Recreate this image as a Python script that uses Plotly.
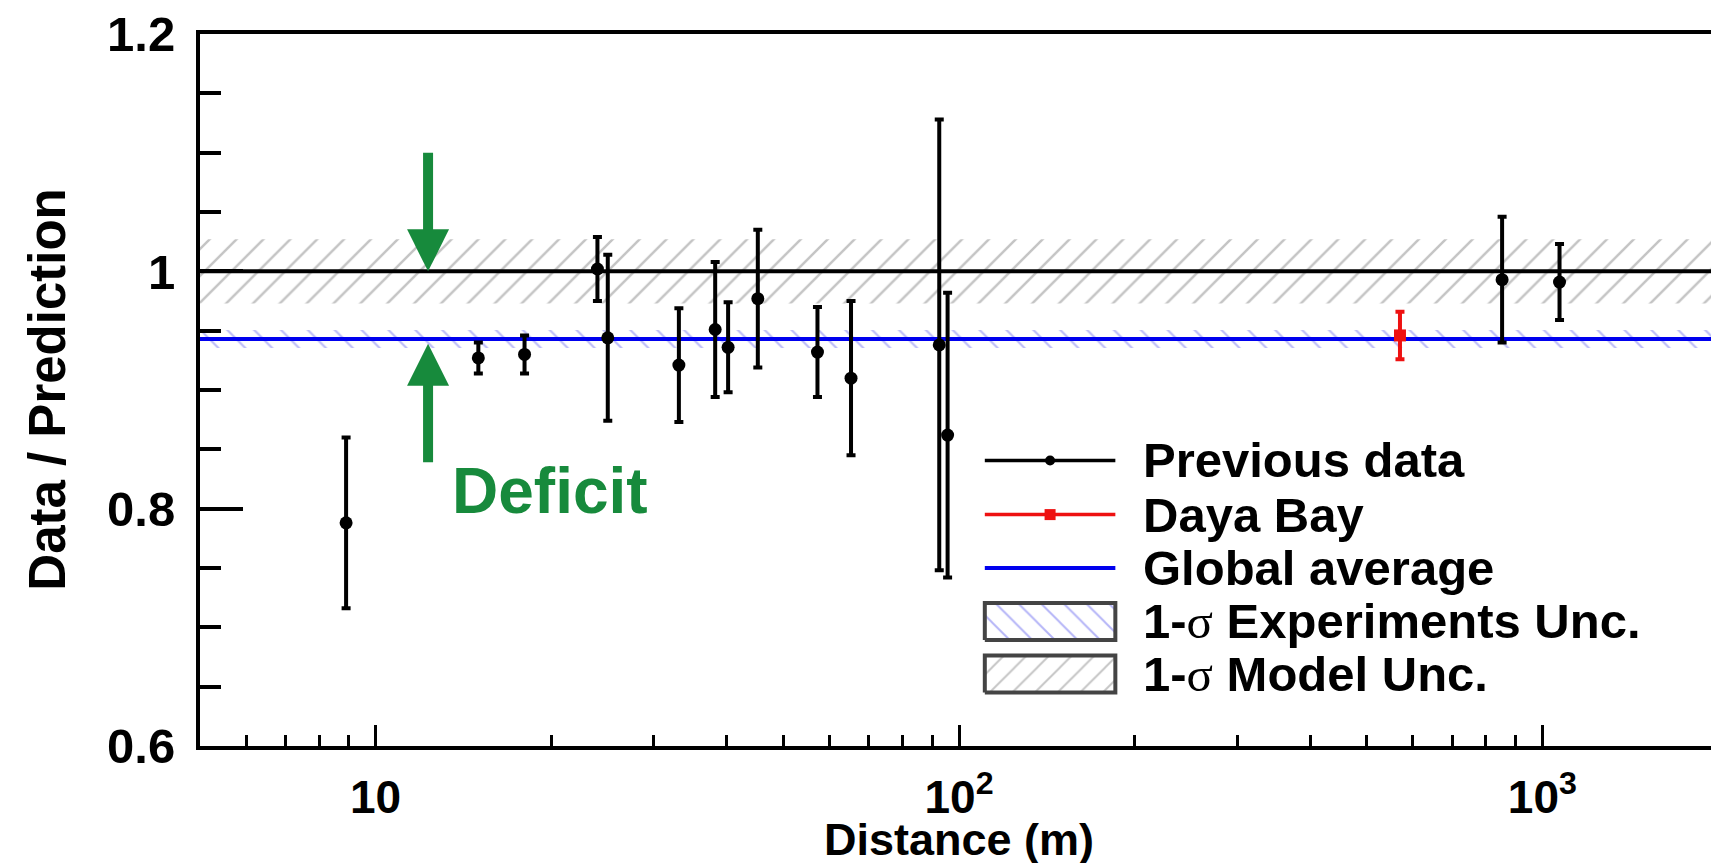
import math
import plotly.graph_objects as go

# ---------------- data ----------------
distances = [8.9, 15.0, 18.0, 24.0, 25.0, 33.1, 38.2, 40.2, 45.2, 57.2, 65.3, 92.5, 95.6, 853, 1070]
ratios = [0.788, 0.927, 0.930, 1.002, 0.944, 0.921, 0.951, 0.936, 0.977, 0.932, 0.910, 0.938, 0.862, 0.993, 0.991]
errors = [0.072, 0.013, 0.016, 0.027, 0.070, 0.048, 0.057, 0.038, 0.058, 0.038, 0.065, 0.190, 0.120, 0.053, 0.032]

dyb_distance = [570]
dyb_ratio = [0.946]
dyb_error = [0.020]

global_average = 0.943
global_unc = 0.0075
model_center = 1.0
model_unc = 0.027

x_range = [5, 2000]
y_range = [0.6, 1.2]
y_tickvals = [0.6, 0.8, 1.0, 1.2]
y_ticktext = ["0.6", "0.8", "1", "1.2"]
x_tickvals = [10, 100, 1000]
x_ticktext = ["10", "10<sup>2</sup>", "10<sup>3</sup>"]

arrow_distance = 12.3
deficit_distance = 13.4
deficit_level = 0.815

legend_labels = [
    "Previous data",
    "Daya Bay",
    "Global average",
    "1-<span style='font-family:Liberation Serif;font-weight:normal'>σ</span> Experiments Unc.",
    "1-<span style='font-family:Liberation Serif;font-weight:normal'>σ</span> Model Unc.",
]

FONT = "Liberation Sans, Arial, Helvetica, sans-serif"
GREEN = "#178a3c"

fig = go.Figure()

# model uncertainty band
fig.add_trace(go.Scatter(
    x=[x_range[0], x_range[1], x_range[1], x_range[0]],
    y=[model_center - model_unc, model_center - model_unc, model_center + model_unc, model_center + model_unc],
    fill="toself", mode="none", fillcolor="rgba(0,0,0,0)",
    fillpattern=dict(shape="/", fgcolor="#8a8a8a", bgcolor="rgba(255,255,255,0)", size=19, solidity=0.13),
    hoverinfo="skip", showlegend=False))
# experiments uncertainty band
fig.add_trace(go.Scatter(
    x=[x_range[0], x_range[1], x_range[1], x_range[0]],
    y=[global_average - global_unc, global_average - global_unc, global_average + global_unc, global_average + global_unc],
    fill="toself", mode="none", fillcolor="rgba(0,0,0,0)",
    fillpattern=dict(shape="\\", fgcolor="#7a7af0", bgcolor="rgba(255,255,255,0)", size=19, solidity=0.12),
    hoverinfo="skip", showlegend=False))
# reference line at 1
fig.add_trace(go.Scatter(x=x_range, y=[model_center, model_center], mode="lines",
                         line=dict(color="black", width=4), showlegend=False))
# global average line
fig.add_trace(go.Scatter(x=x_range, y=[global_average, global_average], mode="lines",
                         line=dict(color="#0000ee", width=4), showlegend=False))
# previous data
fig.add_trace(go.Scatter(
    x=distances, y=ratios, mode="markers",
    marker=dict(symbol="circle", size=13, color="black"),
    error_y=dict(type="data", array=errors, visible=True, color="black", thickness=4, width=4.5),
    showlegend=False))
# Daya Bay
fig.add_trace(go.Scatter(
    x=dyb_distance, y=dyb_ratio, mode="markers",
    marker=dict(symbol="square", size=12, color="#ee1111"),
    error_y=dict(type="data", array=dyb_error, visible=True, color="#ee1111", thickness=4, width=4.5),
    showlegend=False))

# ---------------- legend (overlay axes in plot-fraction units) ----------------
leg_rows = [0.401, 0.325, 0.250, 0.175, 0.101]
lx0, lx1, ltx = 0.517, 0.603, 0.620
lxm = (lx0 + lx1) / 2
box_h = 0.026

fig.add_trace(go.Scatter(x=[lx0, lx1], y=[leg_rows[0]] * 2, mode="lines", xaxis="x2", yaxis="y2",
                         line=dict(color="black", width=3.5), showlegend=False, hoverinfo="skip"))
fig.add_trace(go.Scatter(x=[lxm], y=[leg_rows[0]], mode="markers", xaxis="x2", yaxis="y2",
                         marker=dict(symbol="circle", size=10, color="black"), showlegend=False, hoverinfo="skip"))
fig.add_trace(go.Scatter(x=[lx0, lx1], y=[leg_rows[1]] * 2, mode="lines", xaxis="x2", yaxis="y2",
                         line=dict(color="#ee1111", width=3.5), showlegend=False, hoverinfo="skip"))
fig.add_trace(go.Scatter(x=[lxm], y=[leg_rows[1]], mode="markers", xaxis="x2", yaxis="y2",
                         marker=dict(symbol="square", size=11, color="#ee1111"), showlegend=False, hoverinfo="skip"))
fig.add_trace(go.Scatter(x=[lx0, lx1], y=[leg_rows[2]] * 2, mode="lines", xaxis="x2", yaxis="y2",
                         line=dict(color="#0000ee", width=4), showlegend=False, hoverinfo="skip"))
for row, shape, col in [(leg_rows[3], "\\", "#6a6af0"), (leg_rows[4], "/", "#8a8a8a")]:
    fig.add_trace(go.Scatter(
        x=[lx0, lx1, lx1, lx0, lx0], y=[row - box_h, row - box_h, row + box_h, row + box_h, row - box_h],
        xaxis="x2", yaxis="y2", fill="toself", mode="lines", fillcolor="rgba(0,0,0,0)",
        line=dict(color="#444444", width=4),
        fillpattern=dict(shape=shape, fgcolor=col, bgcolor="white", size=16, solidity=0.12),
        showlegend=False, hoverinfo="skip"))

annotations = []
for row, lab in zip(leg_rows, legend_labels):
    annotations.append(dict(x=ltx, y=row, xref="x2", yref="y2", text="<b>" + lab + "</b>", showarrow=False,
                            xanchor="left", yanchor="middle", font=dict(family=FONT, size=49, color="black")))

# deficit arrows & label
lx = math.log10(arrow_distance)
annotations.append(dict(x=lx, y=model_center, xref="x", yref="y", ax=0, ay=-120, showarrow=True,
                        arrowhead=2, arrowsize=0.84, arrowwidth=10, arrowcolor=GREEN, text=""))
annotations.append(dict(x=lx, y=global_average - 0.004, xref="x", yref="y", ax=0, ay=120, showarrow=True,
                        arrowhead=2, arrowsize=0.84, arrowwidth=10, arrowcolor=GREEN, text=""))
annotations.append(dict(x=math.log10(deficit_distance), y=deficit_level, xref="x", yref="y", text="<b>Deficit</b>",
                        showarrow=False, xanchor="left", yanchor="middle", font=dict(family=FONT, size=64, color=GREEN)))
# axis titles
annotations.append(dict(x=-0.101, y=0.5, xref="paper", yref="paper", text="<b>Data / Prediction</b>",
                        textangle=-90, showarrow=False, xanchor="center", yanchor="middle",
                        font=dict(family=FONT, size=51, color="black")))
annotations.append(dict(x=0.5, y=-0.169, xref="paper", yref="paper", text="<b>Distance (m)</b>",
                        showarrow=False, xanchor="center", yanchor="bottom", borderpad=0,
                        font=dict(family=FONT, size=45, color="black")))

fig.update_layout(
    width=1719, height=863,
    margin=dict(l=192, r=9, t=26, b=125, autoexpand=False),
    paper_bgcolor="white", plot_bgcolor="white",
    showlegend=False,
    annotations=annotations,
    xaxis=dict(type="log", range=[math.log10(x_range[0]), math.log10(x_range[1])],
               tickvals=x_tickvals, ticktext=x_ticktext, automargin=False,
               ticks="inside", ticklen=21, tickwidth=3, tickcolor="black",
               minor=dict(ticks="inside", ticklen=11, tickwidth=3, tickcolor="black", dtick="D1"),
               showline=True, linewidth=4, linecolor="black", mirror=True,
               showgrid=False, zeroline=False,
               tickfont=dict(family=FONT, size=46, color="black", weight="bold"),
               ticklabelstandoff=8),
    yaxis=dict(range=[y_range[0] - 1e-4, y_range[1] + 1e-4], tickvals=y_tickvals, ticktext=y_ticktext,
               automargin=False,
               ticks="inside", ticklen=43, tickwidth=4, tickcolor="black",
               minor=dict(ticks="inside", ticklen=21, tickwidth=4, tickcolor="black", dtick=0.05),
               showline=True, linewidth=4, linecolor="black", mirror=True,
               showgrid=False, zeroline=False, ticklabeloverflow="allow",
               tickfont=dict(family=FONT, size=49, color="black", weight="bold"),
               ticklabelstandoff=11),
    xaxis2=dict(overlaying="x", range=[0, 1], visible=False, anchor="y2", automargin=False),
    yaxis2=dict(overlaying="y", range=[0, 1], visible=False, anchor="x2", automargin=False),
)

fig.write_html("out.html")
